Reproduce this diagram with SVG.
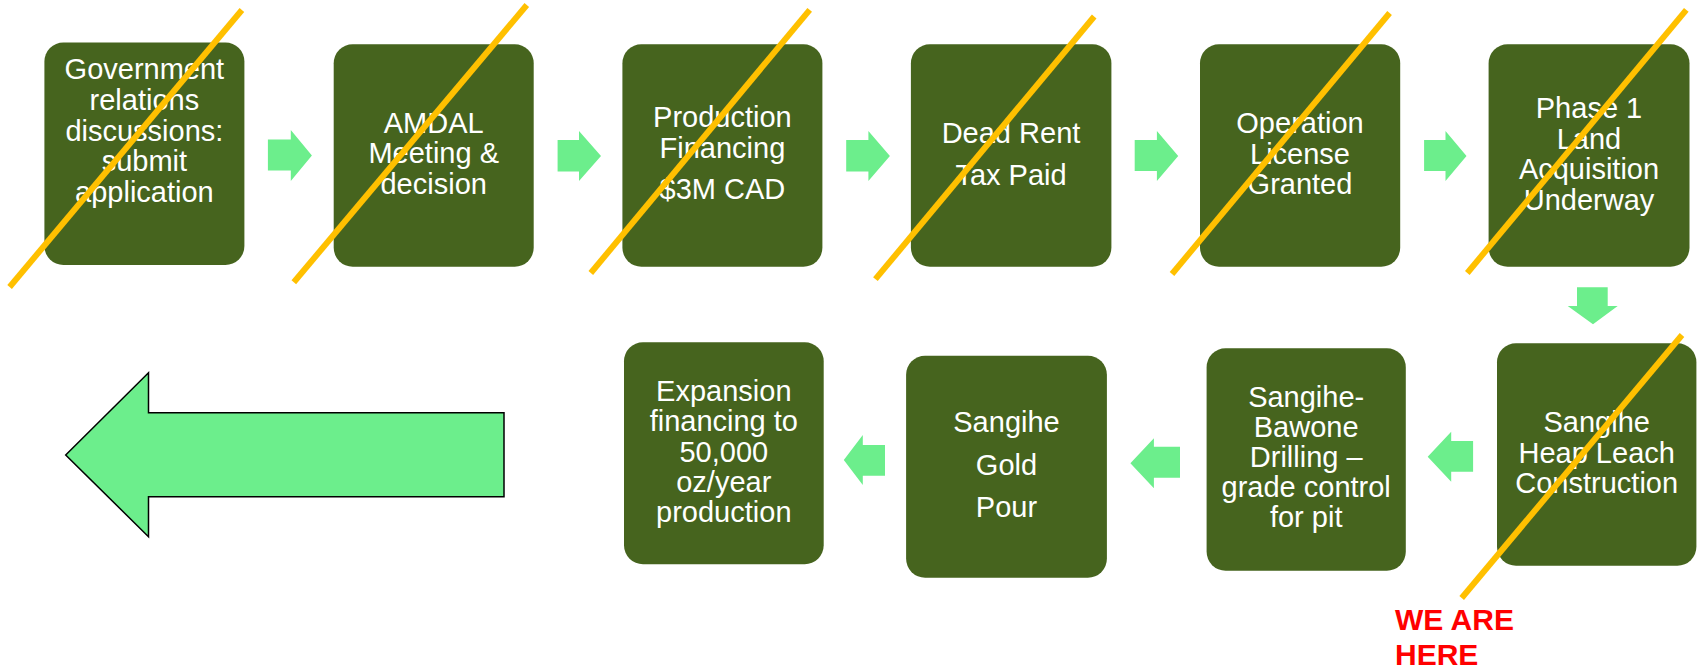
<svg xmlns="http://www.w3.org/2000/svg" width="1698" height="672" viewBox="0 0 1698 672">
<style>
.box{fill:#46641E;}
.t{font-family:"Liberation Sans",Arial,sans-serif;font-size:29px;fill:#FFFFFF;text-anchor:middle;}
.arr{fill:#6CEE8C;}
.big{fill:#6CEE8C;stroke:#000000;stroke-width:1.5;stroke-linejoin:miter;}
.x{stroke:#FFC000;stroke-width:6;fill:none;stroke-linecap:butt;}
.here{font-family:"Liberation Sans",Arial,sans-serif;font-size:30px;font-weight:bold;fill:#FF0000;}
</style>
<rect width="1698" height="672" fill="#FFFFFF"/>

<g id="connectors">
  <polygon class="arr" points="267.9,139.5 290.8,139.5 290.8,130 311.9,155.5 290.8,181 290.8,170.5 267.9,170.5"/>
  <polygon class="arr" points="557.6,140 579,140 579,131 601,156 579,181 579,171.5 557.6,171.5"/>
  <polygon class="arr" points="846.2,140 868.4,140 868.4,131 889.9,156 868.4,181 868.4,171.5 846.2,171.5"/>
  <polygon class="arr" points="1134.7,140 1156.9,140 1156.9,131 1178.2,156 1156.9,181 1156.9,171 1134.7,171"/>
  <polygon class="arr" points="1424.1,140 1445.5,140 1445.5,131 1466.5,156 1445.5,181 1445.5,171 1424.1,171"/>
  <polygon class="arr" points="1577,287.3 1607.7,287.3 1607.7,306 1617.7,306 1593,324.3 1567.7,306 1577,306"/>
  <polygon class="arr" points="1473.1,441 1451.2,441 1451.2,431.7 1427.7,456.7 1451.2,481.7 1451.2,471.7 1473.1,471.7"/>
  <polygon class="arr" points="1180,446.7 1153.9,446.7 1153.9,438.3 1130.4,463.3 1153.9,488.3 1153.9,477.7 1180,477.7"/>
  <polygon class="arr" points="885,445 862.8,445 862.8,435 843.8,460 862.8,485 862.8,475.7 885,475.7"/>
</g>

<g id="big-arrow">
  <polygon class="big" points="65.7,455 148.5,372.7 148.5,412.7 504,412.7 504,496.7 148.5,496.7 148.5,536.7"/>
</g>

<g id="n1">
  <rect class="box" x="44.4" y="42.5" width="200" height="222.5" rx="19"/>
  <text class="t" x="144.4" y="79.3">Government</text>
  <text class="t" x="144.4" y="110">relations</text>
  <text class="t" x="144.4" y="140.7">discussions:</text>
  <text class="t" x="144.4" y="171.4">submit</text>
  <text class="t" x="144.4" y="202">application</text>
</g>
<g id="n2">
  <rect class="box" x="333.7" y="44.3" width="200" height="222.5" rx="19"/>
  <text class="t" x="433.7" y="132.5">AMDAL</text>
  <text class="t" x="433.7" y="163">Meeting &amp;</text>
  <text class="t" x="433.7" y="193.5">decision</text>
</g>
<g id="n3">
  <rect class="box" x="622.4" y="44.3" width="200" height="222.5" rx="19"/>
  <text class="t" x="722.4" y="127">Production</text>
  <text class="t" x="722.4" y="158">Financing</text>
  <text class="t" x="722.4" y="199">$3M CAD</text>
</g>
<g id="n4">
  <rect class="box" x="910.9" y="44.3" width="200.5" height="222.5" rx="19"/>
  <text class="t" x="1011" y="143">Dead Rent</text>
  <text class="t" x="1011" y="185">Tax Paid</text>
</g>
<g id="n5">
  <rect class="box" x="1200" y="44.3" width="200.2" height="222.5" rx="19"/>
  <text class="t" x="1300" y="133">Operation</text>
  <text class="t" x="1300" y="163.5">License</text>
  <text class="t" x="1300" y="194">Granted</text>
</g>
<g id="n6">
  <rect class="box" x="1488.6" y="44.3" width="200.9" height="222.5" rx="19"/>
  <text class="t" x="1589" y="118">Phase 1</text>
  <text class="t" x="1589" y="148.5">Land</text>
  <text class="t" x="1589" y="179">Acquisition</text>
  <text class="t" x="1589" y="209.5">Underway</text>
</g>
<g id="n7">
  <rect class="box" x="1497" y="343.3" width="199.4" height="222.4" rx="19"/>
  <text class="t" x="1596.7" y="432">Sangihe</text>
  <text class="t" x="1596.7" y="462.5">Heap Leach</text>
  <text class="t" x="1596.7" y="493">Construction</text>
</g>
<g id="n8">
  <rect class="box" x="1206.6" y="348.3" width="199.2" height="222.4" rx="19"/>
  <text class="t" x="1306.2" y="407.3">Sangihe-</text>
  <text class="t" x="1306.2" y="437">Bawone</text>
  <text class="t" x="1306.2" y="467">Drilling –</text>
  <text class="t" x="1306.2" y="497.3">grade control</text>
  <text class="t" x="1306.2" y="527">for pit</text>
</g>
<g id="n9">
  <rect class="box" x="906.1" y="355.7" width="200.8" height="222" rx="19"/>
  <text class="t" x="1006.5" y="432.3">Sangihe</text>
  <text class="t" x="1006.5" y="475">Gold</text>
  <text class="t" x="1006.5" y="517.3">Pour</text>
</g>
<g id="n10">
  <rect class="box" x="624" y="342.3" width="199.7" height="222" rx="19"/>
  <text class="t" x="723.8" y="401">Expansion</text>
  <text class="t" x="723.8" y="431">financing to</text>
  <text class="t" x="723.8" y="461.5">50,000</text>
  <text class="t" x="723.8" y="491.7">oz/year</text>
  <text class="t" x="723.8" y="521.7">production</text>
</g>

<g id="strikes">
  <line class="x" x1="241.9" y1="10" x2="9.6" y2="287"/>
  <line class="x" x1="526.8" y1="5" x2="293.8" y2="282.3"/>
  <line class="x" x1="809.7" y1="9.8" x2="590.8" y2="273"/>
  <line class="x" x1="1094.2" y1="16.5" x2="875.4" y2="279.2"/>
  <line class="x" x1="1389.6" y1="13" x2="1172" y2="274"/>
  <line class="x" x1="1686.3" y1="9.8" x2="1467.3" y2="273"/>
  <line class="x" x1="1682" y1="335" x2="1461.7" y2="598"/>
</g>

<g id="we-are-here">
  <text class="here" x="1395" y="630">WE ARE</text>
  <text class="here" x="1395" y="665">HERE</text>
</g>
</svg>
